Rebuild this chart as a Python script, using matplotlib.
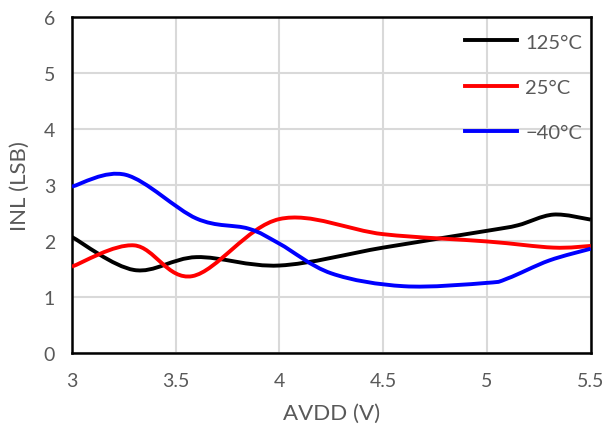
import matplotlib.pyplot as plt
from matplotlib.path import Path
from matplotlib.patches import PathPatch
from matplotlib.lines import Line2D
import numpy as np

# INL vs AVDD
x_125 = [3.0, 3.3, 3.6, 4.0, 4.5, 5.0, 5.15, 5.32, 5.5]
inl_125 = [2.07, 1.48, 1.71, 1.56, 1.88, 2.18, 2.28, 2.47, 2.38]

x_25 = [3.0, 3.3, 3.58, 4.0, 4.5, 5.0, 5.32, 5.5]
inl_25 = [1.54, 1.92, 1.37, 2.39, 2.12, 1.99, 1.88, 1.91]

x_m40 = [3.0, 3.26, 3.6, 3.85, 4.0, 4.25, 4.6, 5.0, 5.1, 5.3, 5.5]
inl_m40 = [2.97, 3.18, 2.40, 2.22, 1.95, 1.42, 1.19, 1.25, 1.33, 1.65, 1.86]

labels = ["125°C", "25°C", "\u221240°C"]
colors = ["black", "red", "blue"]


def smooth_path(xs, ys):
    """Bezier path through the points, like an Excel smoothed line."""
    p = np.column_stack([xs, ys])
    n = len(p)
    verts = [p[0]]
    codes = [Path.MOVETO]
    for i in range(n - 1):
        p0 = p[i - 1] if i > 0 else p[i]
        p3 = p[i + 2] if i + 2 < n else p[i + 1]
        c1 = p[i] + (p[i + 1] - p0) / 6
        c2 = p[i + 1] - (p3 - p[i]) / 6
        verts += [c1, c2, p[i + 1]]
        codes += [Path.CURVE4] * 3
    return Path(verts, codes)


def main():
    plt.rcParams['font.family'] = ['Lato', 'DejaVu Sans']
    fig = plt.figure(figsize=(6.09, 4.39), dpi=100)
    ax = fig.add_axes([0.118, 0.194, 0.852, 0.765])

    series = [(x_125, inl_125), (x_25, inl_25), (x_m40, inl_m40)]
    handles = []
    for (xs, ys), c, lab in zip(series, colors, labels):
        ax.add_patch(PathPatch(smooth_path(xs, ys), facecolor='none',
                               edgecolor=c, lw=2.8, zorder=3))
        handles.append(Line2D([], [], color=c, lw=2.8, label=lab))

    ax.set_xlim(3, 5.5)
    ax.set_ylim(0, 6)
    ax.set_xticks([3, 3.5, 4, 4.5, 5, 5.5])
    ax.set_xticklabels(['3', '3.5', '4', '4.5', '5', '5.5'])
    ax.set_yticks(range(7))
    ax.grid(True, color='#d9d9d9', lw=1.5)
    ax.set_axisbelow(True)
    for s in ax.spines.values():
        s.set_color('black')
        s.set_linewidth(1.8)
    ax.tick_params(length=0, labelsize=14, labelcolor='#595959')
    ax.tick_params(axis='x', pad=14)
    ax.tick_params(axis='y', pad=12)
    ax.set_xlabel("AVDD (V)", fontsize=16, color='#595959', labelpad=10)
    ax.set_ylabel("INL (LSB)", fontsize=16, color='#595959', labelpad=10)

    leg = ax.legend(handles=handles, loc='upper right', frameon=False,
                    fontsize=14.5, labelspacing=1.4, handlelength=2.6,
                    handletextpad=0.4, bbox_to_anchor=(1.018, 1.005))
    for t in leg.get_texts():
        t.set_color('#595959')

    fig.savefig("out.png", dpi=100)


if __name__ == "__main__":
    main()
